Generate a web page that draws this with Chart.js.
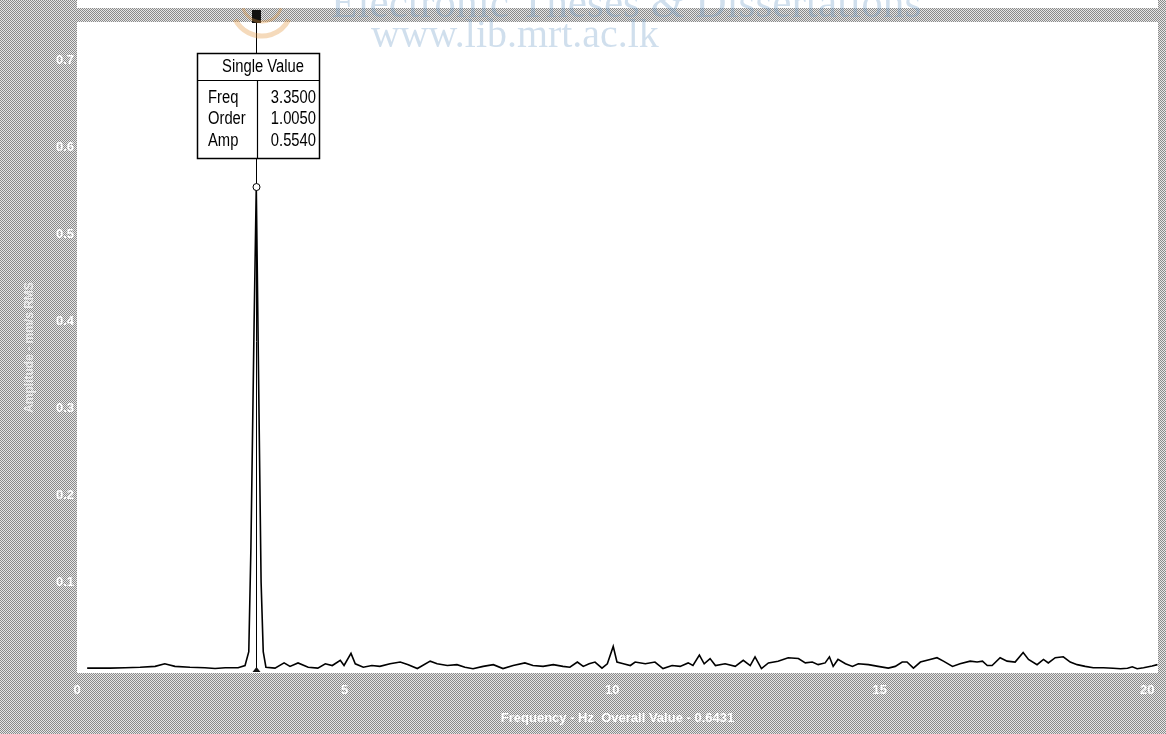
<!DOCTYPE html>
<html>
<head>
<meta charset="utf-8">
<script src="https://cdn.jsdelivr.net/npm/chart.js@4/dist/chart.umd.min.js"></script>
<style>
  html, body { margin: 0; padding: 0; background: #ffffff; }
  #wrap { width: 1166px; height: 734px; position: relative; }
</style>
</head>
<body>
<div id="wrap"><canvas id="spectrum" width="1166" height="734"></canvas></div>
<script>
// Spectrum trace: frequency (Hz) and amplitude (RMS)
const freqHz = [
  0.19, 0.62, 0.90, 1.18, 1.46, 1.64, 1.83, 2.11, 2.39, 2.58, 2.77, 3.01, 3.14, 3.21, 3.25, 3.31,
  3.35, 3.39, 3.44, 3.48, 3.53, 3.70, 3.87, 3.98, 4.13, 4.32, 4.50, 4.64, 4.77, 4.92, 4.99, 5.12,
  5.20, 5.35, 5.51, 5.66, 5.85, 6.04, 6.19, 6.36, 6.60, 6.73, 6.92, 7.10, 7.25, 7.40, 7.59, 7.78,
  7.96, 8.15, 8.37, 8.52, 8.71, 8.90, 9.08, 9.21, 9.35, 9.46, 9.57, 9.68, 9.81, 9.91, 10.02, 10.09,
  10.21, 10.34, 10.43, 10.62, 10.80, 10.95, 11.12, 11.27, 11.42, 11.51, 11.63, 11.72, 11.83, 11.93,
  12.11, 12.30, 12.45, 12.58, 12.67, 12.79, 12.92, 13.10, 13.29, 13.48, 13.61, 13.74, 13.85, 13.98,
  14.06, 14.13, 14.22, 14.36, 14.49, 14.60, 14.79, 14.97, 15.16, 15.29, 15.42, 15.51, 15.63, 15.76,
  15.94, 16.07, 16.19, 16.36, 16.50, 16.69, 16.82, 16.92, 17.01, 17.10, 17.25, 17.38, 17.53, 17.68,
  17.78, 17.94, 18.06, 18.15, 18.28, 18.43, 18.56, 18.69, 18.84, 18.99, 19.18, 19.36, 19.50, 19.63,
  19.72, 19.81, 19.93, 20.09, 20.19
];
const ampRms = [
  0.0010, 0.0010, 0.0015, 0.0020, 0.0030, 0.0060, 0.0030, 0.0020, 0.0015, 0.0005, 0.0015, 0.0015, 0.0040, 0.0200, 0.1400, 0.4000,
  0.5540, 0.3500, 0.1000, 0.0200, 0.0020, 0.0010, 0.0070, 0.0030, 0.0070, 0.0020, 0.0010, 0.0060, 0.0040, 0.0100, 0.0040, 0.0180,
  0.0060, 0.0020, 0.0040, 0.0030, 0.0060, 0.0080, 0.0050, 0.0005, 0.0090, 0.0060, 0.0040, 0.0050, 0.0020, 0.0003, 0.0030, 0.0050,
  0.0005, 0.0040, 0.0070, 0.0040, 0.0030, 0.0050, 0.0030, 0.0020, 0.0080, 0.0030, 0.0060, 0.0080, 0.0010, 0.0060, 0.0260, 0.0080,
  0.0060, 0.0040, 0.0080, 0.0060, 0.0080, 0.0005, 0.0040, 0.0030, 0.0070, 0.0040, 0.0160, 0.0060, 0.0120, 0.0040,
  0.0060, 0.0030, 0.0100, 0.0040, 0.0140, 0.0005, 0.0070, 0.0090, 0.0130, 0.0120, 0.0070, 0.0080, 0.0050, 0.0070,
  0.0140, 0.0030, 0.0110, 0.0060, 0.0030, 0.0060, 0.0050, 0.0030, 0.0010, 0.0030, 0.0080, 0.0080, 0.0010, 0.0080,
  0.0110, 0.0130, 0.0090, 0.0030, 0.0060, 0.0090, 0.0080, 0.0090, 0.0040, 0.0040, 0.0130, 0.0090, 0.0080, 0.0190,
  0.0110, 0.0050, 0.0110, 0.0070, 0.0130, 0.0140, 0.0080, 0.0050, 0.0030, 0.0015, 0.0015, 0.0008, 0.0003, 0.0008,
  0.0025, 0.0003, 0.0015, 0.0035, 0.0050
];
const xTickValues = [0, 5, 10, 15, 20];
const yTickValues = [0.1, 0.2, 0.3, 0.4, 0.5, 0.6, 0.7];

// Cursor readout
const cursorFreq = 3.35;
const cursorOrder = 1.005;
const cursorAmp = 0.554;
const overallValue = 0.6431;

const points = freqHz.map((f, i) => ({ x: f, y: ampRms[i] }));

// 2x2 dither tile for the grey frame
function ditherPattern(ctx) {
  const c = document.createElement('canvas');
  c.width = 2; c.height = 2;
  const t = c.getContext('2d');
  t.fillStyle = '#e6e6e6'; t.fillRect(0, 0, 2, 2);
  t.fillStyle = '#8a8a8a'; t.fillRect(0, 0, 1, 1); t.fillRect(1, 1, 1, 1);
  return ctx.createPattern(c, 'repeat');
}

const framePlugin = {
  id: 'frame',
  beforeDraw(chart) {
    const { ctx, chartArea: a, width, height } = chart;
    ctx.save();
    ctx.fillStyle = '#ffffff';
    ctx.fillRect(0, 0, width, height);
    ctx.fillStyle = ditherPattern(ctx);
    ctx.fillRect(0, 0, a.left, height);                  // left band
    ctx.fillRect(0, 8, width, a.top - 8);                // top band
    ctx.fillRect(0, a.bottom, width, height - a.bottom); // bottom band
    ctx.fillRect(a.right, 0, width - a.right, height);   // right band
    ctx.fillStyle = '#ffffff';
    ctx.fillRect(a.left, a.top, a.right - a.left, a.bottom - a.top);
    ctx.restore();
  }
};

const cursorPlugin = {
  id: 'cursor',
  afterDatasetsDraw(chart) {
    const { ctx, chartArea: a } = chart;
    const xs = chart.scales.x, ys = chart.scales.y;
    const px = Math.round(xs.getPixelForValue(cursorFreq)) + 0.5;
    const py = ys.getPixelForValue(cursorAmp);
    ctx.save();
    // vertical cursor line
    ctx.strokeStyle = '#000000';
    ctx.lineWidth = 1;
    ctx.beginPath();
    ctx.moveTo(px, 12);
    ctx.lineTo(px, a.bottom - 2);
    ctx.stroke();
    // top handle
    ctx.fillStyle = '#111111';
    ctx.fillRect(px - 4.5, 10, 9, 13);
    // bottom tick
    ctx.beginPath();
    ctx.moveTo(px - 4, a.bottom - 1);
    ctx.lineTo(px + 4, a.bottom - 1);
    ctx.lineTo(px, a.bottom - 6);
    ctx.closePath();
    ctx.fill();
    // value marker
    ctx.fillStyle = '#ffffff';
    ctx.beginPath();
    ctx.arc(px, py, 3.5, 0, Math.PI * 2);
    ctx.fill();
    ctx.stroke();

    // readout box
    const bx = 197.5, by = 53.5, bw = 122, bh = 105, hy = 80.5, dx = px + 1;
    ctx.fillStyle = '#ffffff';
    ctx.fillRect(bx, by, bw, bh);
    ctx.lineWidth = 1.5;
    ctx.strokeRect(bx, by, bw, bh);
    ctx.lineWidth = 1.2;
    ctx.beginPath();
    ctx.moveTo(bx, hy); ctx.lineTo(bx + bw, hy);
    ctx.moveTo(dx, hy); ctx.lineTo(dx, by + bh);
    ctx.stroke();
    ctx.fillStyle = '#000000';
    ctx.font = '18px "Liberation Sans", Arial, sans-serif';
    ctx.textBaseline = 'middle';
    // condensed lettering
    const sx = 0.82;
    const txt = (s, x, y, align) => {
      ctx.save();
      ctx.translate(x, y);
      ctx.scale(sx, 1);
      ctx.textAlign = align;
      ctx.fillText(s, 0, 0);
      ctx.restore();
    };
    txt('Single Value', 263, 67, 'center');
    const rows = [['Freq', cursorFreq], ['Order', cursorOrder], ['Amp', cursorAmp]];
    const rowY = [98, 119, 141];
    rows.forEach((r, i) => {
      txt(r[0], 208, rowY[i], 'left');
      txt(r[1].toFixed(4), 316, rowY[i], 'right');
    });
    ctx.restore();
  }
};

// Repository watermark overlay
const watermarkPlugin = {
  id: 'watermark',
  afterDraw(chart) {
    const { ctx } = chart;
    ctx.save();
    ctx.fillStyle = 'rgba(110, 155, 200, 0.32)';
    ctx.textBaseline = 'alphabetic';
    ctx.textAlign = 'left';
    const fit = (text, width, base) => {
      ctx.font = base + 'px "Liberation Serif", "DejaVu Serif", serif';
      const w = ctx.measureText(text).width;
      return base * width / w;
    };
    let s = fit('Electronic Theses & Dissertations', 590, 40);
    ctx.font = s.toFixed(1) + 'px "Liberation Serif", "DejaVu Serif", serif';
    ctx.fillText('Electronic Theses & Dissertations', 331, 17);
    s = fit('www.lib.mrt.ac.lk', 288, 34);
    ctx.font = s.toFixed(1) + 'px "Liberation Serif", "DejaVu Serif", serif';
    ctx.fillText('www.lib.mrt.ac.lk', 371, 47);
    // emblem
    ctx.strokeStyle = 'rgba(225, 150, 60, 0.35)';
    ctx.lineWidth = 5;
    ctx.beginPath();
    ctx.arc(262, 6, 30, 0.15 * Math.PI, 0.85 * Math.PI);
    ctx.stroke();
    ctx.lineWidth = 3;
    ctx.beginPath();
    ctx.arc(262, 2, 20, 0.1 * Math.PI, 0.9 * Math.PI);
    ctx.stroke();
    ctx.restore();
  }
};

const tickFont = { family: '"Liberation Sans", Arial, sans-serif', size: 13, weight: 'bold' };

new Chart(document.getElementById('spectrum'), {
  type: 'line',
  data: {
    datasets: [{
      data: points,
      borderColor: '#000000',
      borderWidth: 1.6,
      pointRadius: 0,
      tension: 0,
      fill: false
    }]
  },
  options: {
    responsive: false,
    animation: false,
    events: [],
    layout: { padding: { top: 22, right: 8, left: 0, bottom: 0 } },
    plugins: { legend: { display: false }, tooltip: { enabled: false } },
    scales: {
      x: {
        type: 'linear',
        min: 0,
        max: 20.2,
        grid: { display: false, drawTicks: false, tickLength: 0 },
        border: { display: false },
        afterFit(scale) { scale.height = 61; },
        afterBuildTicks(scale) { scale.ticks = xTickValues.map(v => ({ value: v })); },
        ticks: { color: '#ffffff', font: tickFont, padding: 10, maxRotation: 0, autoSkip: false },
        title: {
          display: true,
          text: 'Frequency - Hz  Overall Value - ' + overallValue.toFixed(4),
          color: '#ffffff',
          font: { family: '"Liberation Sans", Arial, sans-serif', size: 13, weight: 'bold' },
          padding: { top: 0, bottom: 8 }
        }
      },
      y: {
        type: 'linear',
        min: -0.0046,
        max: 0.7437,
        grid: { display: false, drawTicks: false, tickLength: 0 },
        border: { display: false },
        afterFit(scale) { scale.width = 77; },
        afterBuildTicks(scale) { scale.ticks = yTickValues.map(v => ({ value: v })); },
        ticks: { color: '#ffffff', font: tickFont, padding: 3, callback: v => v.toFixed(1) },
        title: {
          display: true,
          text: 'Amplitude - mm/s RMS',
          color: 'rgba(255,255,255,0.7)',
          font: { family: '"Liberation Sans", Arial, sans-serif', size: 12, weight: 'bold' },
          padding: { top: 22, bottom: 0 }
        }
      }
    }
  },
  plugins: [framePlugin, cursorPlugin, watermarkPlugin]
});
</script>
</body>
</html>
